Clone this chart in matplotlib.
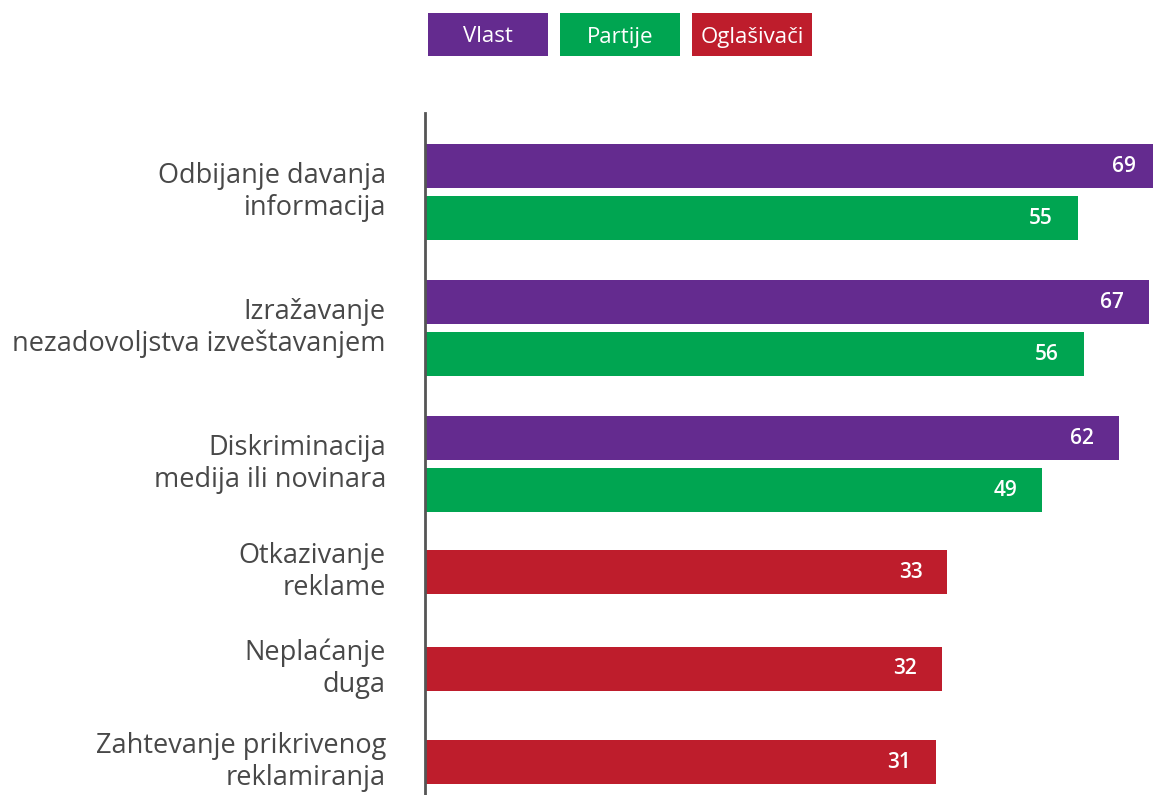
import matplotlib
matplotlib.use("Agg")
import matplotlib.pyplot as plt
from matplotlib.patches import Rectangle
from matplotlib.transforms import blended_transform_factory

# ---- data ----
categories = [
    "Odbijanje davanja\ninformacija",
    "Izražavanje\nnezadovoljstva izveštavanjem",
    "Diskriminacija\nmedija ili novinara",
    "Otkazivanje\nreklame",
    "Neplaćanje\nduga",
    "Zahtevanje prikrivenog\nreklamiranja",
]
series_names = ["Vlast", "Partije", "Oglašivači"]
vlast = [69, 67, 62, None, None, None]
partije = [55, 56, 49, None, None, None]
oglasivaci = [None, None, None, 33, 32, 31]

colors = {"Vlast": "#642b8f", "Partije": "#00a551", "Oglašivači": "#be1d2c"}

# ---- layout (pixel-like units, y grows downward) ----
W, H = 1153, 795
fig = plt.figure(figsize=(W / 100, H / 100), dpi=100)
ax_left, ax_top = 425, 113
ax = fig.add_axes([ax_left / W, 0, 1 - ax_left / W, (H - ax_top) / H])

x_base, x_max = -55.2, 67.7
ax.set_xlim(x_base, x_max)
ax.set_ylim(H, ax_top)

bar_h = 44
pair_tops = [144, 280, 416]     # top of first bar in paired groups
single_tops = [550, 647, 740]   # top of single bars
pair_gap = 52

label_font = "Open Sans"
group_centers = []
bars_pos = []  # (series, value, center)
for i in range(3):
    c1 = pair_tops[i] + bar_h / 2
    c2 = c1 + pair_gap
    bars_pos.append(("Vlast", vlast[i], c1))
    bars_pos.append(("Partije", partije[i], c2))
    group_centers.append((c1 + c2) / 2)
for j, i in enumerate(range(3, 6)):
    c = single_tops[j] + bar_h / 2
    bars_pos.append(("Oglašivači", oglasivaci[i], c))
    group_centers.append(c)

for name, val, c in bars_pos:
    ax.barh(c, val - x_base, left=x_base, height=bar_h, color=colors[name], linewidth=0)
    ax.annotate(str(val), xy=(val, c), xytext=(-25, 0), textcoords="offset pixels",
                ha="right", va="center", color="white", fontsize=15,
                fontweight="semibold", family=label_font, annotation_clip=False)

trans = blended_transform_factory(fig.transFigure, ax.transData)
for cat, c in zip(categories, group_centers):
    ax.text(386 / W, c, cat, transform=trans, ha="right", va="center",
            fontsize=19.5, color="#484848", family=label_font, linespacing=1.2)

for s in ["top", "right", "bottom"]:
    ax.spines[s].set_visible(False)
ax.spines["left"].set_color("#555555")
ax.spines["left"].set_linewidth(2)
ax.set_xticks([])
ax.set_yticks([])

# ---- legend boxes ----
leg_lefts = [428, 560, 692]
for name, lx in zip(series_names, leg_lefts):
    fig.patches.append(Rectangle((lx / W, 1 - 56 / H), 120 / W, 43 / H,
                                 transform=fig.transFigure, color=colors[name],
                                 linewidth=0))
    fig.text((lx + 60) / W, 1 - 37 / H, name, ha="center", va="center",
             color="white", fontsize=16, family=label_font)

fig.savefig("out.png", dpi=100)
